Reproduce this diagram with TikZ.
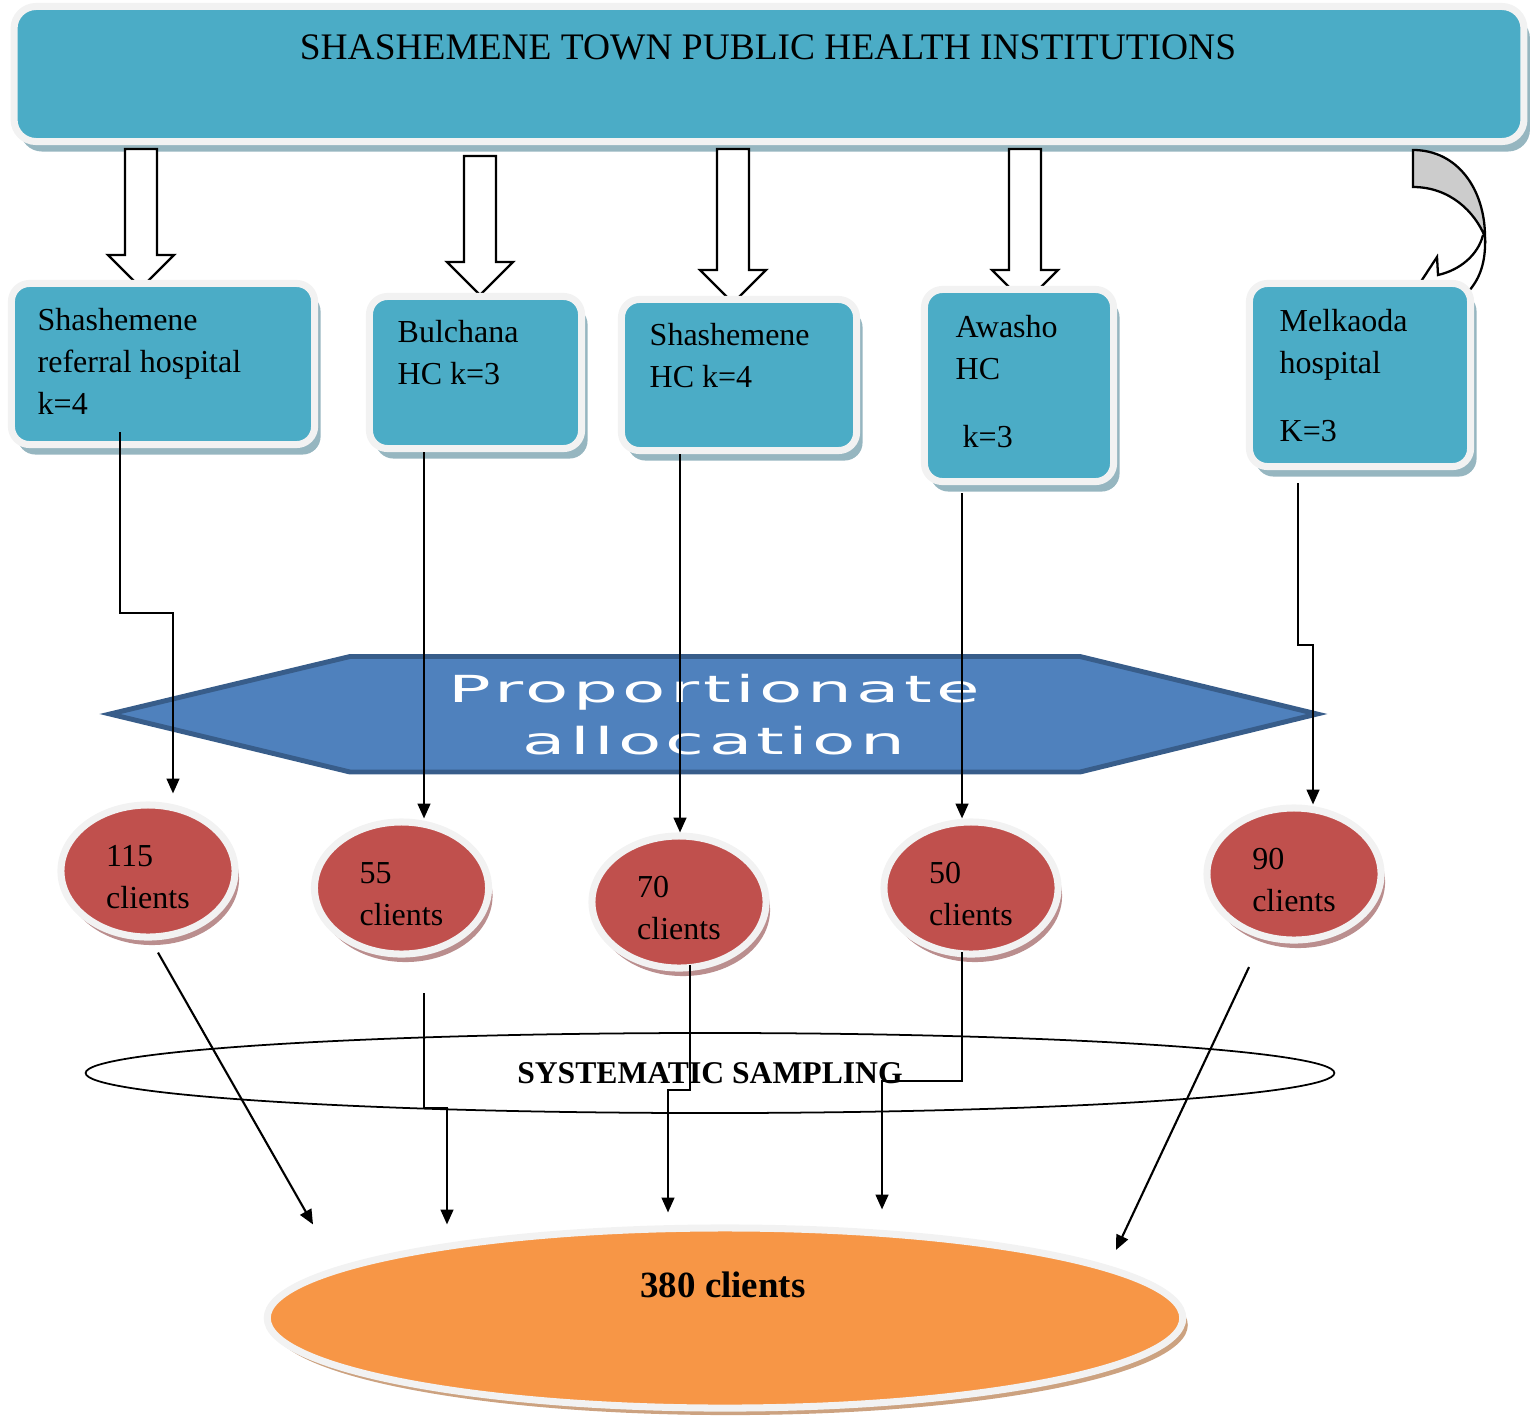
\documentclass[tikz,border=0pt]{standalone}
\usepackage{fontspec}
\setmainfont{Liberation Serif}
\newfontfamily\propfont{DejaVu Sans}[LetterSpace=6]
\usetikzlibrary{calc,shapes.geometric,shadows,arrows.meta}

\definecolor{boxteal}{RGB}{75,172,198}
\definecolor{ringgray}{RGB}{242,242,242}
\definecolor{tealshadow}{RGB}{150,182,192}
\definecolor{hexblue}{RGB}{79,129,189}
\definecolor{hexedge}{RGB}{56,93,138}
\definecolor{clientred}{RGB}{192,80,77}
\definecolor{redshadow}{RGB}{186,142,142}
\definecolor{totalorange}{RGB}{247,150,70}
\definecolor{orangeshadow}{RGB}{204,162,128}
\definecolor{curvegray}{RGB}{204,204,204}

% hollow block arrow from the top box down to a head base
\newcommand{\hollowdown}[2]{%
\draw[hollow] ($(#1 |- top.south)+(-16,#2)$) -- ($(#1)+(-16,0)$) -- ++(-17,0) -- ++(33,33) -- ++(33,-33) -- ++(-17,0) -- ($(#1 |- top.south)+(16,#2)$) -- cycle;}

\begin{document}
\begin{tikzpicture}[x=0.01cm,y=-0.01cm,
  hbox/.style={draw=ringgray,line width=2pt,fill=boxteal,rounded corners=0.18cm,
    general shadow={fill=tealshadow,shadow xshift=0.06cm,shadow yshift=-0.1cm}},
  btext/.style={anchor=north west,inner sep=0pt,align=left,font=\fontsize{9.1}{11.95}\selectfont},
  client/.style={ellipse,draw=ringgray,line width=2pt,fill=clientred,minimum width=1.74cm,
    minimum height=1.32cm,inner sep=0pt,align=left,font=\fontsize{9.1}{11.95}\selectfont,
    general shadow={fill=redshadow,shadow xshift=0.04cm,shadow yshift=-0.08cm}},
  hollow/.style={draw=black,fill=white,line width=0.65pt},
  hexa/.style={fill=hexblue,draw=hexedge,line width=1.4pt},
  conn/.style={line width=0.6pt,-{Triangle[length=4.2pt,width=3.6pt]}}]

\useasboundingbox (0,0) rectangle (1537,1418);

%block arrows
\coordinate (h1) at (141,255);
\coordinate (h2) at (480,262);
\coordinate (h3) at (733,270);
\coordinate (h4) at (1025,270);

%TOP
\node[hbox,rounded corners=0.22cm,minimum width=15.09cm,minimum height=1.35cm] (top) at (769,74) {};
\node[anchor=base,inner sep=0pt,font=\fontsize{10.65}{12}\selectfont] (title) at (768,59)
  {SHASHEMENE TOWN PUBLIC HEALTH INSTITUTIONS};

\hollowdown{h1}{4}
\hollowdown{h2}{11}
\hollowdown{h3}{4}
\hollowdown{h4}{4}

%curved arrow
\draw[fill=curvegray,line width=0.65pt] (1413,150) .. controls (1458,150) and (1485,190) .. (1485,237)
  .. controls (1475,212) and (1450,187) .. (1413,187) -- cycle;
\draw[line width=0.65pt] (1485,237) .. controls (1486,262) and (1480,280) .. (1466,294);
\draw[line width=0.65pt] (1483,235) .. controls (1478,255) and (1460,270) .. (1438,275) -- (1437,257) -- (1418,286);

%institutions
\node[hbox,minimum width=3.03cm,minimum height=1.61cm] (b1) at (163,364) {};
\node[hbox,minimum width=2.12cm,minimum height=1.52cm] (b2) at (475.5,372.5) {};
\node[hbox,minimum width=2.35cm,minimum height=1.51cm] (b3) at (739,375) {};
\node[hbox,minimum width=1.89cm,minimum height=1.92cm] (b4) at (1019,385.5) {};
\node[hbox,minimum width=2.21cm,minimum height=1.83cm] (b5) at (1360,375) {};

\node[btext] (t1) at (37,308) {Shashemene\\referral hospital\\k=4};
\node[btext] (t2) at (397,320) {Bulchana\\HC k=3};
\node[btext] (t3) at (649,323) {Shashemene\\HC k=4};
\node[btext] (t4) at (955,315) {Awasho\\HC\\[0.26cm]\hspace{0.07cm}k=3};
\node[btext] (t5) at (1279,309) {Melkaoda\\hospital\\[0.26cm]K=3};

%allocation
\draw[hexa] (110,714) -- (350,656.5) -- (1080,656.5) -- (1317,714) -- (1080,772) -- (350,772) -- cycle;
\node[align=center,inner sep=0pt,text=white,font=\propfont\fontsize{10.6}{14.8}\selectfont] (alloc) at (714,715)
  {\scalebox{1.9}[1]{Proportionate}\\\scalebox{1.9}[1]{allocation}};

%clients
\node[client] (c1) at (148,871) {\rule{0pt}{0.34cm}115\\clients};
\node[client] (c2) at (401.5,888) {\rule{0pt}{0.34cm}55\\clients};
\node[client] (c3) at (679,902) {\rule{0pt}{0.34cm}70\\clients};
\node[client] (c4) at (971,888) {\rule{0pt}{0.34cm}50\\clients};
\node[client] (c5) at (1294,874) {\rule{0pt}{0.34cm}90\\clients};

%sampling
\node[ellipse,draw=black,line width=0.5pt,minimum width=12.48cm,minimum height=0.8cm,inner sep=0pt,
  font=\bfseries\fontsize{9}{10}\selectfont] (sys) at (710,1073) {SYSTEMATIC SAMPLING};

%total
\node[ellipse,draw=ringgray,line width=2pt,fill=totalorange,minimum width=9.15cm,minimum height=1.8cm,
  general shadow={fill=orangeshadow,shadow xshift=0.05cm,shadow yshift=-0.07cm}] (total) at (725,1318) {};
\node[anchor=base,inner sep=0pt,font=\bfseries\fontsize{10.5}{12}\selectfont] (totaltext) at (723,1297) {380 clients};

% connections
\draw[conn] ($(b1.south)+(-43,-16)$) -- ++(0,181) -| ($(c1.north)+(25,-8)$);
\draw[conn] ($(b2.south)+(-51.5,0)$) coordinate (l2) -- (l2 |- c2.north);
\draw[conn] ($(b3.south)+(-59,0)$) coordinate (l3) -- (l3 |- c3.north);
\draw[conn] ($(b4.south)+(-57,8)$) coordinate (l4) -- (l4 |- c4.north);
\draw[conn] ($(b5.south)+(-62,13)$) -- ++(0,162) -| ($(c5.north)+(19,0)$);

\draw[conn] ($(c1.south)+(10,12)$) -- ($(total.north)+(-412,0)$);
\draw[conn] ($(c2.south)+(22.5,35.5)$) -- ++(0,115) -| ($(total.north)+(-278,0)$);
\draw[conn] ($(c3.south)+(11,-6.5)$) -- ++(0,125) -| ($(total.north)+(-57,-12)$);
\draw[conn] ($(c4.south)+(-9,-5.5)$) -- ++(0,129) -| ($(total.north)+(157,-15)$);
\draw[conn] ($(c5.south)+(-45,23.5)$) -- ($(total.north)+(391,25.5)$);

\end{tikzpicture}
\end{document}
